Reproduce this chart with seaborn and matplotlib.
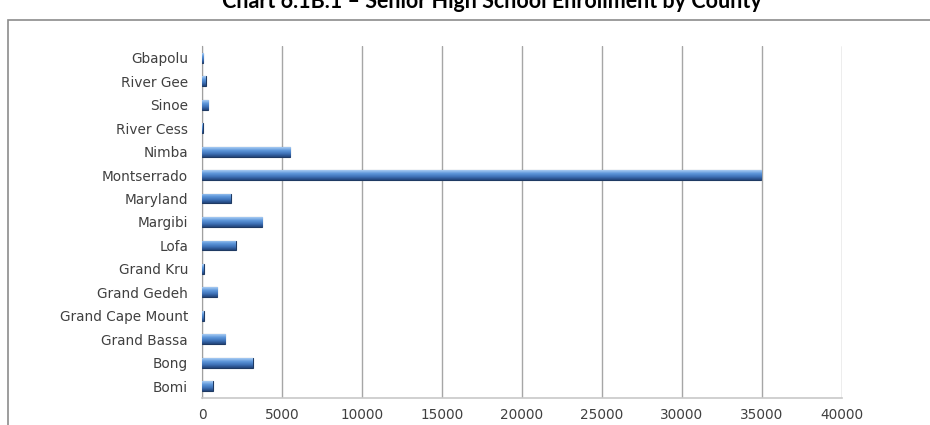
import numpy as np
import matplotlib
matplotlib.use('Agg')
import matplotlib.pyplot as plt
from matplotlib.patches import Rectangle
import seaborn as sns
import pandas as pd

# Senior high school enrollment by county
counties = ['Bomi', 'Bong', 'Grand Bassa', 'Grand Cape Mount', 'Grand Gedeh',
            'Grand Kru', 'Lofa', 'Margibi', 'Maryland', 'Montserrado',
            'Nimba', 'River Cess', 'Sinoe', 'River Gee', 'Gbapolu']
enrollment = [670, 3170, 1440, 100, 960,
              110, 2100, 3770, 1800, 34950,
              5500, 40, 400, 250, 80]
x_ticks = [0, 5000, 10000, 15000, 20000, 25000, 30000, 35000, 40000]
title = 'Chart 6.1B.1 \u2013 Senior High School Enrollment by County'

df = pd.DataFrame({'County': counties, 'Enrollment': enrollment})

sns.set_style('white')
plt.rcParams['font.family'] = ['DejaVu Sans']

W, H = 930, 425
fig = plt.figure(figsize=(W / 100, H / 100), dpi=100)
ax = fig.add_axes([202 / W, 1 - 398 / H, 640 / W, (398 - 46) / H])

sns.barplot(data=df, y='County', x='Enrollment', order=counties[::-1],
            orient='h', color='#4f81bd', width=0.42, ax=ax,
            edgecolor='#1f3a63', linewidth=0.8, zorder=3)

# fake the shaded 3-D look with a vertical gradient inside each bar
grad = np.linspace(0, 1, 64).reshape(-1, 1)
cmap = matplotlib.colors.LinearSegmentedColormap.from_list(
    'bar', ['#a9ccf3', '#5e97da', '#3e72b8', '#22447a'])
for p in ax.patches:
    x0, y0 = p.get_x(), p.get_y()
    w, h = p.get_width(), p.get_height()
    if w <= 0:
        continue
    im = ax.imshow(grad, cmap=cmap, aspect='auto', zorder=3.5,
                   extent=(x0, x0 + w, y0 + h, y0), interpolation='bilinear')
    im.set_clip_path(p)

ax.set_xlim(0, 40000)
ax.set_ylim(len(counties) - 0.5, -0.5)
ax.set_xticks(x_ticks)
ax.set_xticklabels([str(v) for v in x_ticks])
ax.set_xlabel('')
ax.set_ylabel('')

ax.grid(axis='x', color='#a6a6a6', linewidth=1, zorder=0)
ax.grid(axis='y', visible=False)

for s in ['top', 'right']:
    ax.spines[s].set_visible(False)
ax.spines['left'].set_color('#a0a0a0')
ax.spines['bottom'].set_color('#c8c8c8')
ax.spines['bottom'].set_linewidth(1.2)

ax.set_yticks(np.arange(len(counties)) - 0.5, minor=True)
ax.tick_params(axis='y', which='major', length=0, pad=10,
               labelsize=9.8, labelcolor='#404040')
ax.tick_params(axis='y', which='minor', length=4, color='#a0a0a0', direction='out')
ax.tick_params(axis='x', length=4, color='#a0a0a0', direction='out', pad=3,
               labelsize=9.8, labelcolor='#404040')
ax.set_axisbelow(True)

# outer chart frame (partly off the image, like the source)
fig.patches.append(Rectangle((8 / W, -0.05), 1.0, 1 - 20 / H + 0.05,
                             transform=fig.transFigure, fill=False,
                             edgecolor='#8c8c8c', linewidth=1.2))

fig.text(492 / W, 1 - 1 / H, title, ha='center', va='center',
         fontsize=15.5, fontweight='bold', family=['Lato', 'DejaVu Sans'],
         color='#000000')

fig.savefig('out.png', dpi=100)
